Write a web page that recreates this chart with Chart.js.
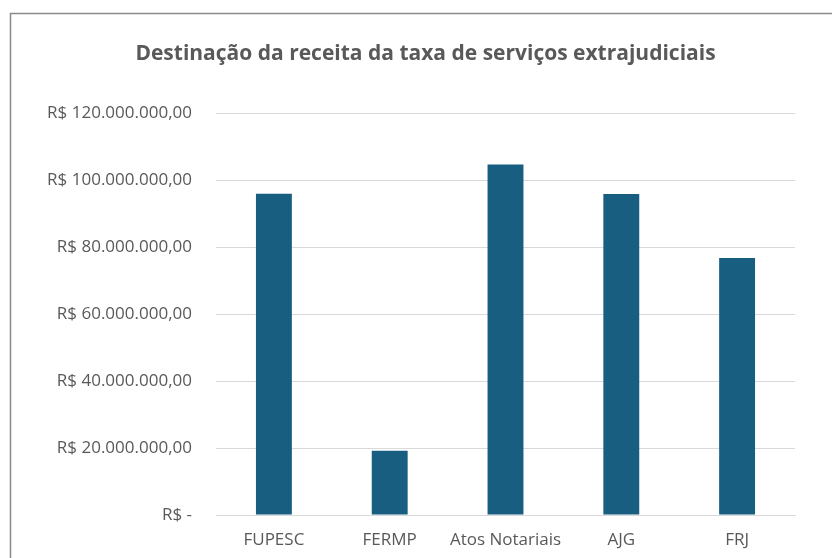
<!DOCTYPE html>
<html>
<head>
<meta charset="utf-8">
<script src="https://cdn.jsdelivr.net/npm/chart.js@4/dist/chart.umd.min.js"></script>
<style>
html,body{margin:0;padding:0;background:#fff;}
#wrap{position:relative;width:832px;height:558px;}
</style>
</head>
<body>
<div id="wrap"><canvas id="c" width="832" height="558"></canvas></div>
<script>
const chartTitle = 'Destinação da receita da taxa de serviços extrajudiciais';
const categories = ['FUPESC', 'FERMP', 'Atos Notariais', 'AJG', 'FRJ'];
const values = [95900000, 19200000, 104600000, 95800000, 76700000];
const yTickValues = [0, 20000000, 40000000, 60000000, 80000000, 100000000, 120000000];
const yTickLabels = ['R$ -', 'R$ 20.000.000,00', 'R$ 40.000.000,00', 'R$ 60.000.000,00', 'R$ 80.000.000,00', 'R$ 100.000.000,00', 'R$ 120.000.000,00'];

const FONT = "'Open Sans', 'Noto Sans', sans-serif";
const TXT = '#595959';

const frame = {
  id: 'frame',
  beforeDraw(chart) {
    const ctx = chart.ctx;
    ctx.save();
    ctx.fillStyle = '#ffffff';
    ctx.fillRect(0, 0, chart.width, chart.height);
    ctx.strokeStyle = '#8a8a8a';
    ctx.lineWidth = 1.5;
    ctx.beginPath();
    ctx.moveTo(10.5, chart.height);
    ctx.lineTo(10.5, 13.5);
    ctx.lineTo(chart.width, 13.5);
    ctx.stroke();
    ctx.restore();
  },
  afterDraw(chart) {
    const ctx = chart.ctx;
    ctx.save();
    ctx.fillStyle = TXT;
    ctx.font = "bold 21px " + FONT;
    ctx.textAlign = 'center';
    ctx.textBaseline = 'middle';
    ctx.fillText(chartTitle, 425.5, 54);
    ctx.restore();
  }
};

new Chart(document.getElementById('c'), {
  type: 'bar',
  data: {
    labels: categories,
    datasets: [{
      data: values,
      backgroundColor: '#175E80',
      borderWidth: 0,
      barPercentage: 0.31,
      categoryPercentage: 1.0
    }]
  },
  options: {
    responsive: false,
    animation: false,
    devicePixelRatio: 1,
    layout: { padding: { left: 12, right: 37, top: 113, bottom: 0 } },
    plugins: {
      legend: { display: false },
      tooltip: { enabled: false },
      title: { display: false }
    },
    scales: {
      x: {
        grid: { display: false, drawTicks: false },
        border: { display: true, color: '#d9d9d9', width: 1 },
        ticks: { color: TXT, font: { family: FONT, size: 17 }, padding: 15, maxRotation: 0, autoSkip: false },
        afterFit(scale) { scale.height = 43; }
      },
      y: {
        min: 0,
        max: 120000000,
        afterBuildTicks(scale) { scale.ticks = yTickValues.map(v => ({ value: v })); },
        grid: { color: '#d9d9d9', lineWidth: 1, drawTicks: false },
        border: { display: false },
        ticks: {
          color: TXT,
          font: { family: FONT, size: 17 },
          padding: 24,
          callback(v) { const i = yTickValues.indexOf(v); return i >= 0 ? yTickLabels[i] : ''; }
        },
        afterFit(scale) { scale.width = 216 - 12; }
      }
    }
  },
  plugins: [frame]
});
</script>
</body>
</html>
